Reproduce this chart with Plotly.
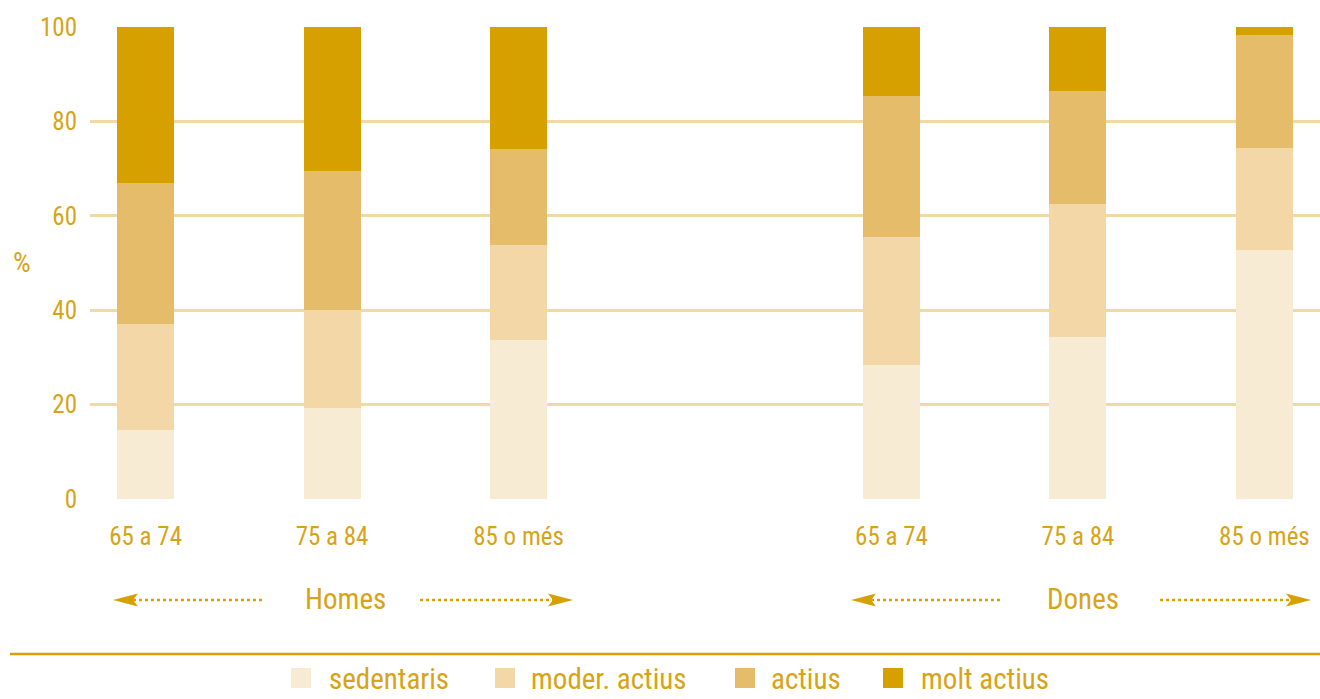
import plotly.graph_objects as go

groups = ["Homes", "Dones"]
ages = ["65 a 74", "75 a 84", "85 o més"]
series = ["sedentaris", "moder. actius", "actius", "molt actius"]
colors = ["#f7ebd4", "#f3d7a7", "#e4bc6a", "#d5a000"]

# segment values (% per category)
sedentaris = [14.6, 19.3, 33.7, 28.4, 34.3, 52.8]
moder_actius = [22.5, 20.7, 20.1, 27.1, 28.2, 21.6]
actius = [29.8, 29.5, 20.4, 29.9, 23.9, 23.9]
molt_actius = [33.1, 30.5, 25.8, 14.6, 13.6, 1.7]
values = [sedentaris, moder_actius, actius, molt_actius]

ids = [f"{g}|{a}" for g in groups for a in ages]
cat_order = ids[:3] + ["gap"] + ids[3:]

TXT = "#d8a316"
FONT = "Liberation Sans Narrow, Roboto Condensed, Arial Narrow, Liberation Sans, sans-serif"

fig = go.Figure()
for name, vals, col in zip(series, values, colors):
    fig.add_trace(go.Bar(x=ids, y=vals, name=name, marker=dict(color=col, line=dict(width=0)),
                         width=0.306, showlegend=False))

W, H = 1320, 699
L, R, T, B = 90, 0, 27, 200
pw, ph = W - L - R, H - T - B

def px(x):  # screen x -> paper
    return (x - L) / pw

def py(y):  # screen y -> paper
    return (H - B - y) / ph

shapes = []
annotations = []

for g, cx, (l1, l2), (r1, r2) in [("Homes", 345, (113, 265), (420, 573)), ("Dones", 1083, (851, 1003), (1160, 1311))]:
    annotations.append(dict(text=g, x=px(cx), y=py(599), xref="paper", yref="paper", showarrow=False,
                            font=dict(size=29, color=TXT, family=FONT), xanchor="center", yanchor="middle"))
    for a, b in [(l1 + 20, l2), (r1, r2 - 20)]:
        shapes.append(dict(type="line", xref="paper", yref="paper", x0=px(a), x1=px(b), y0=py(600), y1=py(600),
                           line=dict(color="#d5a000", width=2.5, dash="dot")))
    shapes.append(dict(type="path", xref="paper", yref="paper", xsizemode="pixel", ysizemode="pixel",
                       xanchor=px(l1), yanchor=py(600),
                       path="M 0 0 L 25 6.5 L 20 0 L 25 -6.5 Z", fillcolor="#d5a000", line=dict(width=0)))
    shapes.append(dict(type="path", xref="paper", yref="paper", xsizemode="pixel", ysizemode="pixel",
                       xanchor=px(r2), yanchor=py(600),
                       path="M 0 0 L -25 6.5 L -20 0 L -25 -6.5 Z", fillcolor="#d5a000", line=dict(width=0)))

shapes.append(dict(type="line", xref="paper", yref="paper", x0=px(10), x1=px(1320), y0=py(654), y1=py(654),
                   line=dict(color="#d5a000", width=2.5)))

# legend drawn as swatches + labels
for name, col, sx, tx in zip(series, colors, [291, 495, 735, 883], [328, 530, 770, 920]):
    shapes.append(dict(type="rect", xref="paper", yref="paper", x0=px(sx), x1=px(sx + 20),
                       y0=py(688), y1=py(668), fillcolor=col, line=dict(width=0)))
    annotations.append(dict(text=name, x=px(tx - 1), y=py(679), xref="paper", yref="paper", showarrow=False,
                            font=dict(size=29, color=TXT, family=FONT), xanchor="left", yanchor="middle"))

annotations.append(dict(text="%", x=px(22), y=py(262), xref="paper", yref="paper", showarrow=False,
                        font=dict(size=28, color=TXT, family=FONT), xanchor="center", yanchor="middle"))

fig.update_layout(
    barmode="stack",
    width=W, height=H,
    margin=dict(l=L, r=R, t=T, b=B, autoexpand=False),
    paper_bgcolor="white", plot_bgcolor="white",
    font=dict(family=FONT, color=TXT),
    shapes=shapes, annotations=annotations,
    showlegend=False,
    hovermode=False,
    xaxis=dict(type="category", categoryorder="array", categoryarray=cat_order,
               tickvals=ids, ticktext=ages * 2, showgrid=False, zeroline=False, showline=False,
               ticks="", tickfont=dict(size=25, color=TXT, family=FONT), ticklabelstandoff=20,
               range=[-0.298, 6.298]),
    yaxis=dict(range=[0, 100], dtick=20, showgrid=True, gridcolor="#f2d9a3", gridwidth=3,
               zeroline=False, showline=False, ticks="", ticklabelstandoff=12,
               tickfont=dict(size=25, color=TXT, family=FONT)),
)

fig.write_html("out.html", config={"displayModeBar": False},
               post_script="document.body.style.margin='0';document.body.style.overflow='hidden';")
